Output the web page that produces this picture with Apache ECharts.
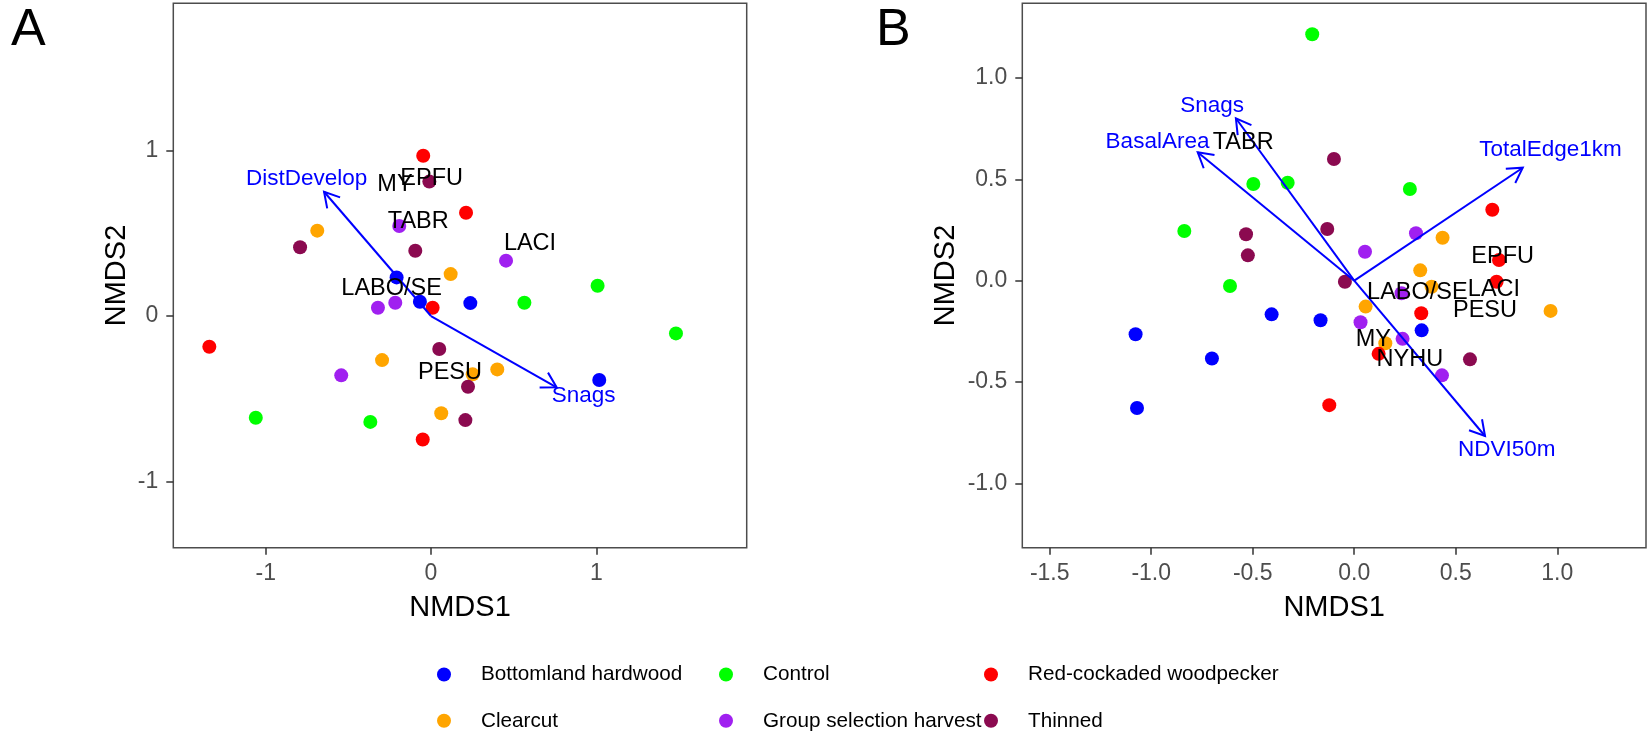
<!DOCTYPE html>
<html>
<head>
<meta charset="utf-8">
<script src="https://cdn.jsdelivr.net/npm/echarts@6/dist/echarts.min.js"></script>
<style>
html, body { margin: 0; padding: 0; background: #fff; }
#main { width: 1650px; height: 734px; }
</style>
</head>
<body>
<div id="main"></div>
<script>
// groups, in legend order (column-major like ggplot)
var groups = ['Bottomland hardwood', 'Clearcut', 'Control', 'Group selection harvest', 'Red-cockaded woodpecker', 'Thinned'];
var groupColors = ['#0000FF', '#FFA500', '#00FF00', '#A020F0', '#FF0000', '#8B0A50'];

// panel A site scores [NMDS1, NMDS2]
var aBottomland = [[-0.208, 0.233], [-0.067, 0.086], [0.238, 0.078], [1.018, -0.386]];
var aClearcut = [[-0.688, 0.515], [0.119, 0.253], [-0.296, -0.266], [0.401, -0.322], [0.252, -0.352], [0.062, -0.587]];
var aControl = [[1.008, 0.183], [0.565, 0.080], [1.482, -0.105], [-1.060, -0.614], [-0.367, -0.639]];
var aGroupSel = [[-0.192, 0.543], [0.454, 0.334], [-0.216, 0.080], [-0.321, 0.050], [-0.543, -0.358]];
var aRcw = [[-0.047, 0.967], [0.212, 0.623], [0.010, 0.050], [-1.341, -0.185], [-0.050, -0.745]];
var aThinned = [[-0.010, 0.811], [-0.792, 0.415], [-0.095, 0.394], [0.050, -0.199], [0.224, -0.427], [0.208, -0.628]];

// panel B site scores
var bBottomland = [[-0.407, -0.166], [-0.166, -0.195], [0.332, -0.245], [-0.701, -0.384], [-1.077, -0.264], [-1.070, -0.628]];
var bClearcut = [[0.435, 0.212], [0.325, 0.051], [0.381, -0.030], [0.056, -0.128], [0.153, -0.309], [0.967, -0.149]];
var bControl = [[-0.207, 1.215], [-0.497, 0.477], [-0.328, 0.483], [0.274, 0.452], [-0.837, 0.245], [-0.612, -0.026]];
var bGroupSel = [[0.304, 0.234], [0.053, 0.143], [0.233, -0.062], [0.031, -0.205], [0.238, -0.287], [0.432, -0.467]];
var bRcw = [[0.680, 0.350], [0.713, 0.102], [0.701, -0.005], [0.330, -0.161], [0.120, -0.361], [-0.123, -0.614]];
var bThinned = [[-0.100, 0.600], [-0.133, 0.255], [-0.533, 0.229], [-0.524, 0.125], [-0.046, -0.005], [0.570, -0.388]];

// species scores
var spNamesA = ['EPFU', 'MY', 'TABR', 'LACI', 'LABO/SE', 'PESU'];
var spPosA = [[0.004, 0.831], [-0.218, 0.791], [-0.077, 0.573], [0.599, 0.439], [-0.238, 0.167], [0.115, -0.340]];
var spNamesB = ['TABR', 'EPFU', 'LABO/SE', 'LACI', 'PESU', 'MY', 'NYHU'];
var spPosB = [[-0.547, 0.680], [0.731, 0.118], [0.311, -0.059], [0.688, -0.046], [0.644, -0.148], [0.094, -0.289], [0.274, -0.391]];

// environmental vectors: arrow tips and label positions
var vecNamesA = ['DistDevelop', 'Snags'];
var vecTipsA = [[-0.647, 0.750], [0.760, -0.430]];
var vecLabA = [[-0.752, 0.831], [0.924, -0.483]];
var vecNamesB = ['Snags', 'BasalArea', 'TotalEdge1km', 'NDVI50m'];
var vecTipsB = [[-0.583, 0.801], [-0.771, 0.633], [0.830, 0.557], [0.644, -0.766]];
var vecLabB = [[-0.700, 0.861], [-0.969, 0.686], [0.967, 0.644], [0.751, -0.835]];

// tick values
var ticksAx = [-1, 0, 1];
var ticksAy = [-1, 0, 1];
var ticksBx = [-1.5, -1, -0.5, 0, 0.5, 1];
var ticksBy = [-1, -0.5, 0, 0.5, 1];

var sitesA = [aBottomland, aClearcut, aControl, aGroupSel, aRcw, aThinned];
var sitesB = [bBottomland, bClearcut, bControl, bGroupSel, bRcw, bThinned];

var FONT = 'Liberation Sans, Arial, sans-serif';
var chart = echarts.init(document.getElementById('main'));

function makeXAxis(idx, min, max, ticks, fmt) {
	return {
		type: 'value', gridIndex: idx, min: min, max: max,
		splitLine: { show: false },
		axisLine: { show: false, onZero: false },
		axisTick: { show: true, customValues: ticks, length: 7, lineStyle: { color: '#333', width: 1.5 } },
		axisLabel: { customValues: ticks, formatter: fmt, fontSize: 23, color: '#4d4d4d', margin: 14, fontFamily: FONT },
		name: 'NMDS1', nameLocation: 'middle', nameGap: 46,
		nameTextStyle: { fontSize: 29, color: '#000', lineHeight: 29, fontFamily: FONT }
	};
}
function makeYAxis(idx, min, max, ticks, fmt, gap) {
	return {
		type: 'value', gridIndex: idx, min: min, max: max,
		splitLine: { show: false },
		axisLine: { show: false, onZero: false },
		axisTick: { show: true, customValues: ticks, length: 7, lineStyle: { color: '#333', width: 1.5 } },
		axisLabel: { customValues: ticks, formatter: fmt, fontSize: 23, color: '#4d4d4d', margin: 15, fontFamily: FONT },
		name: 'NMDS2', nameLocation: 'middle', nameGap: gap, nameRotate: 90,
		nameTextStyle: { fontSize: 29, color: '#000', lineHeight: 29, fontFamily: FONT }
	};
}

function fmtInt(v) { return String(Math.round(v)); }
function fmtOne(v) { return v.toFixed(1); }

function arrowItem(params, api) {
	var o = api.coord([0, 0]);
	var t = api.coord([api.value(0), api.value(1)]);
	var ang = Math.atan2(t[1] - o[1], t[0] - o[0]);
	var L = 17, a = Math.PI / 6;
	var h1 = [t[0] - L * Math.cos(ang - a), t[1] - L * Math.sin(ang - a)];
	var h2 = [t[0] - L * Math.cos(ang + a), t[1] - L * Math.sin(ang + a)];
	var st = { stroke: '#0000FF', lineWidth: 2, fill: null };
	return {
		type: 'group',
		children: [
			{ type: 'line', shape: { x1: o[0], y1: o[1], x2: t[0], y2: t[1] }, style: st },
			{ type: 'polyline', shape: { points: [h1, t, h2] }, style: st }
		]
	};
}

function textRenderer(names, color, size) {
	return function(params, api) {
		var p = api.coord([api.value(0), api.value(1)]);
		return {
			type: 'text', x: p[0], y: p[1],
			style: { text: names[params.dataIndex], fill: color, fontSize: size, fontFamily: FONT, align: 'center', verticalAlign: 'middle' }
		};
	};
}

var series = [];
[sitesA, sitesB].forEach(function(sites, p) {
	for (var g = 0; g < groups.length; g++) {
		series.push({
			type: 'scatter', name: groups[g], xAxisIndex: p, yAxisIndex: p,
			data: sites[g], symbol: 'circle', symbolSize: 14,
			itemStyle: { color: groupColors[g], opacity: 1 }, z: 2
		});
	}
});
series.push({ type: 'custom', xAxisIndex: 0, yAxisIndex: 0, data: vecTipsA, renderItem: arrowItem, z: 3, silent: true });
series.push({ type: 'custom', xAxisIndex: 1, yAxisIndex: 1, data: vecTipsB, renderItem: arrowItem, z: 3, silent: true });
series.push({ type: 'custom', xAxisIndex: 0, yAxisIndex: 0, data: spPosA, renderItem: textRenderer(spNamesA, '#000', 23.5), z: 4, silent: true });
series.push({ type: 'custom', xAxisIndex: 1, yAxisIndex: 1, data: spPosB, renderItem: textRenderer(spNamesB, '#000', 23.5), z: 4, silent: true });
series.push({ type: 'custom', xAxisIndex: 0, yAxisIndex: 0, data: vecLabA, renderItem: textRenderer(vecNamesA, '#0000FF', 22.5), z: 4, silent: true });
series.push({ type: 'custom', xAxisIndex: 1, yAxisIndex: 1, data: vecLabB, renderItem: textRenderer(vecNamesB, '#0000FF', 22.5), z: 4, silent: true });

function legendCol(dotX, names) {
	return {
		orient: 'vertical', left: dotX - 7, top: 662.5, height: 71,
		padding: 0,
		itemWidth: 14, itemHeight: 14, itemGap: 22.3,
		icon: 'circle', selectedMode: false,
		data: names,
		textStyle: { fontSize: 20.7, lineHeight: 24, color: '#000', fontFamily: FONT, padding: [0, 0, 0, 25] }
	};
}

var option = {
	animation: false,
	backgroundColor: '#fff',
	textStyle: { fontFamily: FONT },
	title: [
		{ text: 'A', left: 11, top: 5, padding: 0, textStyle: { fontSize: 52, lineHeight: 52, fontWeight: 'normal', color: '#000', fontFamily: FONT } },
		{ text: 'B', left: 876, top: 5, padding: 0, textStyle: { fontSize: 52, lineHeight: 52, fontWeight: 'normal', color: '#000', fontFamily: FONT } }
	],
	grid: [
		{ left: 173.3, top: 3.3, width: 573.4, height: 544.4, show: true, borderColor: '#4d4d4d', borderWidth: 1.5, backgroundColor: '#fff' },
		{ left: 1022.3, top: 3.3, width: 623.7, height: 544.4, show: true, borderColor: '#4d4d4d', borderWidth: 1.5, backgroundColor: '#fff' }
	],
	xAxis: [
		makeXAxis(0, -1.559, 1.910, ticksAx, fmtInt),
		makeXAxis(1, -1.635, 1.437, ticksBx, fmtOne)
	],
	yAxis: [
		makeYAxis(0, -1.398, 1.887, ticksAy, fmtInt, 42),
		makeYAxis(1, -1.317, 1.368, ticksBy, fmtOne, 62)
	],
	legend: [
		legendCol(444, ['Bottomland hardwood', 'Clearcut']),
		legendCol(726, ['Control', 'Group selection harvest']),
		legendCol(991, ['Red-cockaded woodpecker', 'Thinned'])
	],
	series: series
};
chart.setOption(option);
</script>
</body>
</html>
